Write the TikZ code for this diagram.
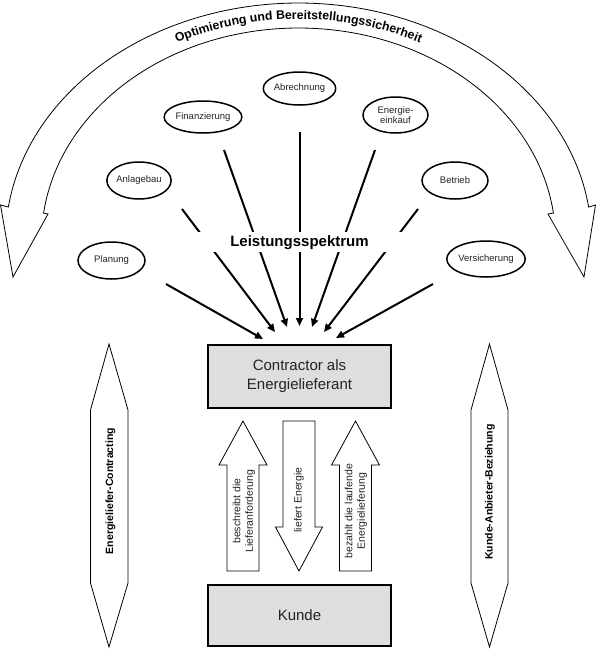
\documentclass[tikz,border=0pt]{standalone}
\usepackage{fontspec}
\setmainfont{Liberation Sans}
\usetikzlibrary{arrows.meta,shapes.geometric,decorations.text,calc}
\definecolor{boxgray}{RGB}{222,222,222}
\definecolor{txt}{RGB}{35,35,35}
\begin{document}
\begin{tikzpicture}[x=1pt,y=-1pt,
  bubble/.style={ellipse, draw, line width=1.5pt, inner sep=0pt, font=\fontsize{9.5}{10.5}\selectfont, text=txt, align=center},
  spoke/.style={line width=2pt, -{Triangle[length=8pt,width=7pt]}},
  greybox/.style={draw, line width=1.3pt, fill=boxgray, minimum width=183pt, inner sep=0pt, font=\fontsize{15}{19}\selectfont, text=txt, align=center},
  blockarrow/.style={draw, line width=0.8pt, fill=white},
  vlabel/.style={rotate=90, font=\fontsize{10.5}{12.5}\selectfont, text=txt, align=center},
  sidelabel/.style={rotate=90, font=\bfseries\fontsize{10.5}{12.5}\selectfont}]
\useasboundingbox (0,0) rectangle (596,649);

% curved double-ended band arrow
\draw[line width=0.8pt, fill=white]
  plot[domain=188:352,samples=120] ({298.5+293*cos(\x)},{240+237*sin(\x)})
  -- (595.5,205) -- (584,277) -- (548,214)
  -- plot[domain=352.7:187.3,samples=120] ({298.5+257*cos(\x)},{240+212*sin(\x)})
  -- (48,214) -- (13,277) -- (0.5,205) -- cycle;
\path[decorate, decoration={text along path, text align=center,
  text={|\bfseries\fontsize{12.3}{14}\selectfont|Optimierung und Bereitstellungssicherheit}}]
  plot[domain=200:340,samples=150] ({298.5+269*cos(\x)},{239+220*sin(\x)});

% service ellipses
\node[bubble, minimum width=65pt, minimum height=33pt] (abr) at (299.5,88.5) {Abrechnung};
\node[bubble, minimum width=64pt, minimum height=32pt] (fin) at (203,117) {Finanzierung};
\node[bubble, minimum width=65pt, minimum height=36pt] (ene) at (395.5,115) {Energie-\\einkauf};
\node[bubble, minimum width=57pt, minimum height=37pt] (anl) at (139,180.5) {Anlagebau};
\node[bubble, minimum width=66pt, minimum height=37pt] (bet) at (455,180.5) {Betrieb};
\node[bubble, minimum width=67pt, minimum height=37pt] (pla) at (111.5,260.5) {Planung};
\node[bubble, minimum width=66pt, minimum height=36pt] (ver) at (486,259) {Versicherung};

% boxes
\node[greybox, minimum height=63pt] (con) at (299.5,376.5) {Contractor als\\Energielieferant};
\node[greybox, minimum height=61pt] (kun) at (299.5,615.5) {Kunde};

% spoke start and end points
\coordinate (s1) at (166,284);   \coordinate (t1) at (263,339);
\coordinate (s2) at (182,209);   \coordinate (t2) at (275,332);
\coordinate (s3) at (224,150);   \coordinate (t3) at (287,327);
\coordinate (s4) at (299.5,132); \coordinate (t4) at (299.5,326);
\coordinate (s5) at (375,150);   \coordinate (t5) at (312,327);
\coordinate (s6) at (418,209);   \coordinate (t6) at (324,332);
\coordinate (s7) at (433,284);   \coordinate (t7) at (336,338);
\foreach \i in {1,...,7} {\draw[spoke] (s\i) -- (t\i);}

% label with white gap
\node[fill=white, minimum width=204pt, minimum height=20pt, inner sep=0pt] (gap) at (299.5,242) {};
\node[anchor=base, font=\bfseries\fontsize{15}{18}\selectfont, inner sep=0pt] (leist) at (299.5,246) {Leistungsspektrum};

% block arrows between contractor and customer
\draw[blockarrow] (243,421) -- (267,465) -- (259,465) -- (259,571) -- (227,571) -- (227,465) -- (219,465) -- cycle;
\draw[blockarrow] (283,421) -- (315,421) -- (315,527) -- (322.5,527) -- (299,571) -- (275.5,527) -- (283,527) -- cycle;
\draw[blockarrow] (355.5,421) -- (379.5,465) -- (371.5,465) -- (371.5,571) -- (339.5,571) -- (339.5,465) -- (331.5,465) -- cycle;
\node[vlabel] (l1) at (244,511) {beschreibt die\\Lieferanforderung};
\node[vlabel] (l2) at (299,500) {liefert Energie};
\node[vlabel] (l3) at (356,511) {bezahlt die laufende\\Energielieferung};

% side double arrows
\draw[blockarrow] (109,344) -- (128,410) -- (128,583) -- (109,647) -- (90.5,583) -- (90.5,410) -- cycle;
\draw[blockarrow] (489.5,344) -- (508,410) -- (508,583) -- (489.5,647) -- (471,583) -- (471,410) -- cycle;
\node[sidelabel] (sl) at (110.5,491) {Energieliefer-Contracting};
\node[sidelabel] (sr) at (490,492) {Kunde-Anbieter-Beziehung};
\end{tikzpicture}
\end{document}
